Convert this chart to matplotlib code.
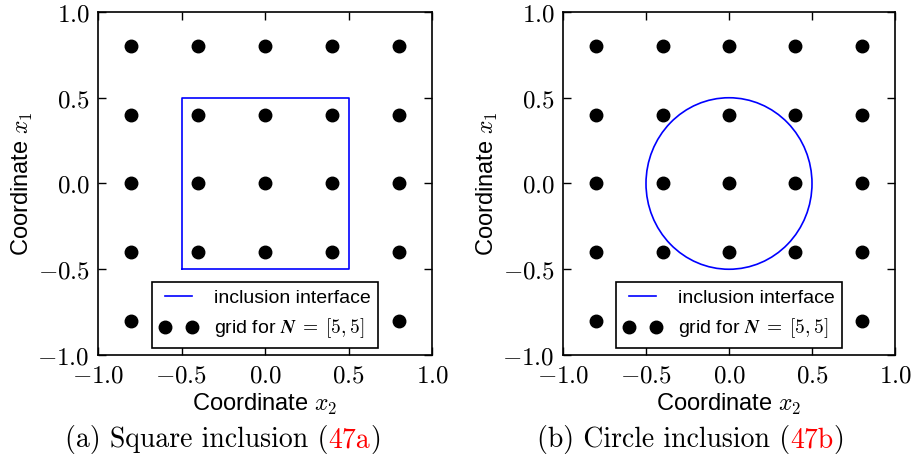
import matplotlib
matplotlib.use("Agg")
import matplotlib.pyplot as plt
from matplotlib.patches import Circle
from matplotlib.lines import Line2D

plt.rcParams['font.family'] = ['Liberation Sans', 'DejaVu Sans']
plt.rcParams['mathtext.fontset'] = 'cm'

# grid points (same along both coordinates)
grid_vals = [-0.8, -0.4, 0.0, 0.4, 0.8]
# square inclusion corners (closed path)
square_x = [-0.5, 0.5, 0.5, -0.5, -0.5]
square_y = [-0.5, -0.5, 0.5, 0.5, -0.5]
# circle inclusion
circle_center = (0.0, 0.0)
circle_radius = 0.5

ticks = [-1.0, -0.5, 0.0, 0.5, 1.0]
tick_labels = [r'$-1.0$', r'$-0.5$', r'$0.0$', r'$0.5$', r'$1.0$']
captions = [('(a) Square inclusion (', '47a', ')'),
            ('(b) Circle inclusion (', '47b', ')')]

gx = [x for x in grid_vals for y in grid_vals]
gy = [y for x in grid_vals for y in grid_vals]

fig = plt.figure(figsize=(9.11, 4.59), dpi=100)
ax1 = fig.add_axes([98 / 911, 1 - 355 / 459, 334 / 911, 343 / 459])
ax2 = fig.add_axes([563 / 911, 1 - 355 / 459, 332 / 911, 343 / 459])

blue = '#0000ff'
iface_label = 'inclusion interface'
grid_label = r'grid for $\boldsymbol{N}\;=\;[5,5]$'

ax1.plot(square_x, square_y, color=blue, lw=1.2, label=iface_label)
ax1.plot(gx, gy, 'o', color='k', ms=9, label=grid_label)

ax2.add_patch(Circle(circle_center, circle_radius, fill=False, ec=blue, lw=1.2))
pts, = ax2.plot(gx, gy, 'o', color='k', ms=9, label=grid_label)
proxy = Line2D([], [], color=blue, lw=1.2)

for ax in (ax1, ax2):
    ax.set_xlim(-1, 1)
    ax.set_ylim(-1, 1)
    ax.set_xticks(ticks)
    ax.set_yticks(ticks)
    ax.set_xticklabels(tick_labels, fontsize=18)
    ax.set_yticklabels(tick_labels, fontsize=18)
    ax.tick_params(direction='in', length=5.5, width=1, top=True, right=True, pad=6)
    for s in ax.spines.values():
        s.set_linewidth(1.2)
    ax.set_xlabel(r'Coordinate $x_2$', fontsize=17, labelpad=3)
    ax.set_ylabel(r'Coordinate $x_1$', fontsize=17, labelpad=1.5)

leg_kw = dict(loc='lower center', fontsize=14, numpoints=2, fancybox=False,
              edgecolor='k', framealpha=1, handlelength=2.0, borderaxespad=0.35)
l1 = ax1.legend(**leg_kw)
l2 = ax2.legend([proxy, pts], [iface_label, grid_label], **leg_kw)
for lg in (l1, l2):
    lg.get_frame().set_linewidth(1.2)

# captions: black text with red reference number
fig.canvas.draw()
r = fig.canvas.get_renderer()
cap_centers = [223 / 911, 691 / 911]
for (a, b, c), xc in zip(captions, cap_centers):
    parts = [(a, 'k'), (b, 'red'), (c, 'k')]
    texts = [fig.text(0, 1 - 440 / 459, s, color=col, family='cmr10',
                      fontsize=20, va='center') for s, col in parts]
    widths = [t.get_window_extent(r).width / fig.bbox.width for t in texts]
    x = xc - sum(widths) / 2
    for t, w in zip(texts, widths):
        t.set_x(x)
        x += w

fig.savefig('out.png', dpi=100)
